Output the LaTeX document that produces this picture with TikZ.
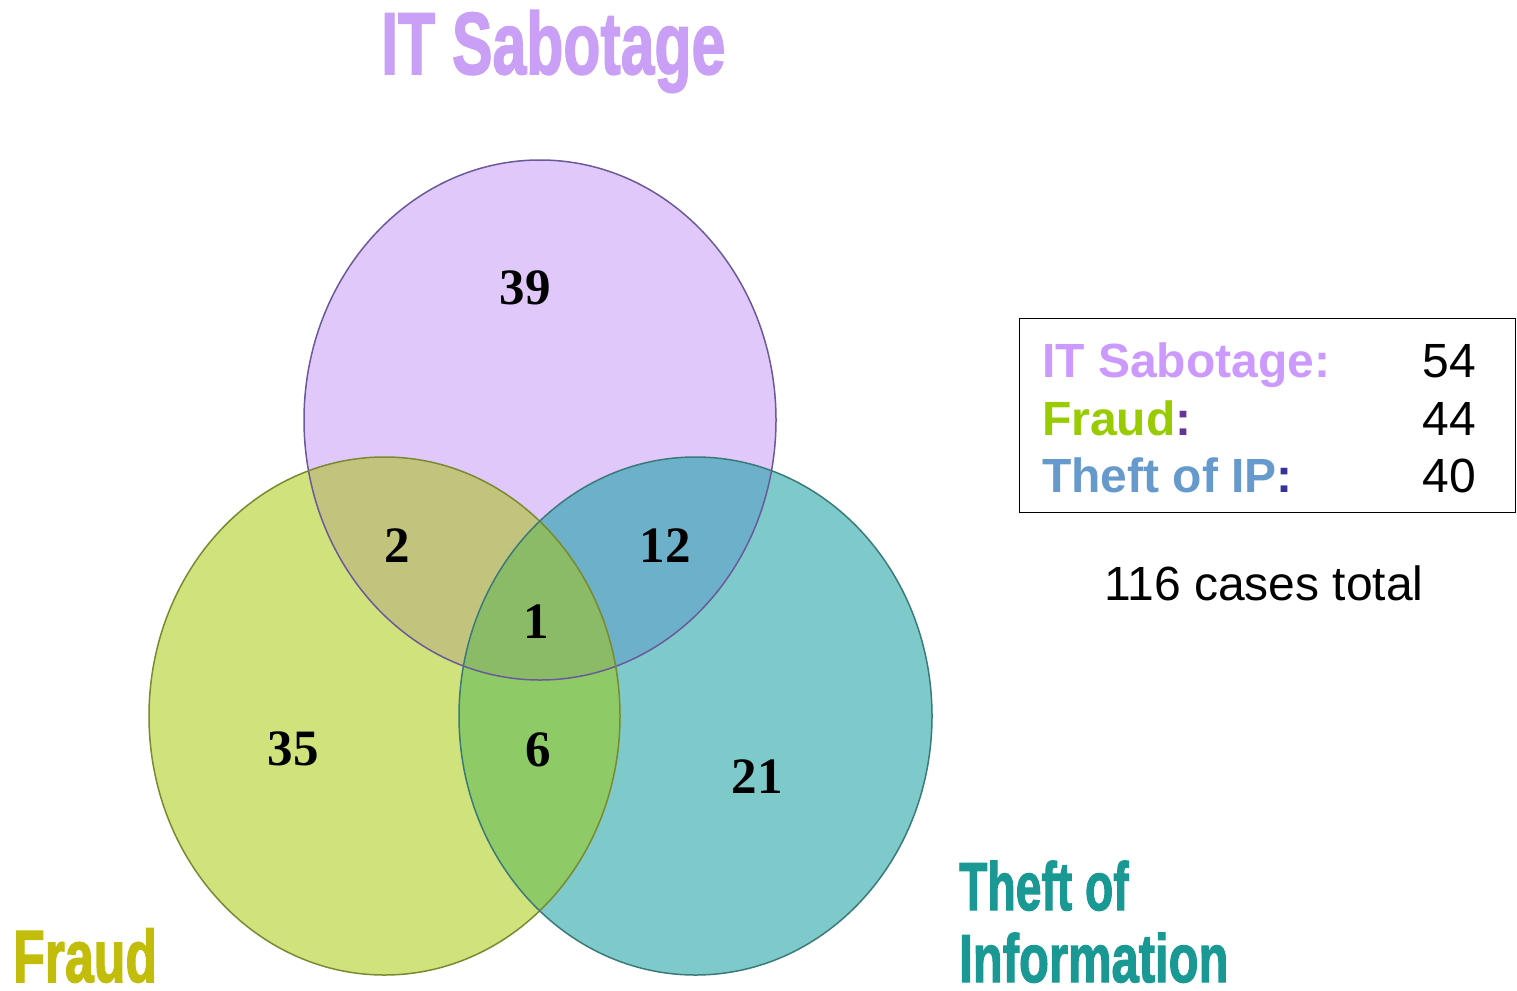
\documentclass[tikz,border=0pt]{standalone}
\usepackage{fontspec}
\usepackage{graphicx}
\setmainfont{Liberation Serif}
\newfontfamily\arialf{Liberation Sans}
\newfontfamily\heavyf[FakeBold=2]{Liberation Sans Bold}
\definecolor{topc}{HTML}{E0C8FA}
\definecolor{leftc}{HTML}{D0E27C}
\definecolor{rightc}{HTML}{7ECACB}
\definecolor{tlc}{HTML}{C2C47E}
\definecolor{trc}{HTML}{6DB0C9}
\definecolor{lrc}{HTML}{8ECB66}
\definecolor{allc}{HTML}{8BBB66}
\definecolor{topline}{HTML}{6A5A9A}
\definecolor{leftline}{HTML}{7A8A30}
\definecolor{rightline}{HTML}{3A7A7A}
\definecolor{ttop}{HTML}{C9A0F5}
\definecolor{tfraud}{HTML}{C2BD0A}
\definecolor{ttheft}{HTML}{1A9994}
\definecolor{lsab}{HTML}{CC99FF}
\definecolor{lfraud}{HTML}{99CC00}
\definecolor{lcolA}{HTML}{663399}
\definecolor{ltheft}{HTML}{6699CC}
\definecolor{lcolB}{HTML}{333399}
\tikzset{
  num/.style={font=\fontsize{51}{51}\selectfont\bfseries, inner sep=0pt},
  bigtitle/.style={anchor=base west, inner sep=0pt},
  legtxt/.style={anchor=base west, inner sep=0pt, font=\arialf\bfseries\fontsize{48}{48}\selectfont},
  legnum/.style={anchor=base east, inner sep=0pt, font=\arialf\fontsize{48}{48}\selectfont},
}
\newcommand{\topE}{(540,420) ellipse [x radius=236pt, y radius=260pt]}
\newcommand{\leftE}{(384.5,716) ellipse [x radius=235.5pt, y radius=259pt]}
\newcommand{\rightE}{(695.5,716) ellipse [x radius=236.5pt, y radius=259pt]}
\newcommand{\condensed}[2]{\scalebox{#1}[1]{#2}}
\begin{document}
\begin{tikzpicture}[x=1pt,y=-1pt]
\useasboundingbox[fill=white] (0,0) rectangle (1517,990);
% base fills
\fill[topc] \topE;
\fill[leftc] \leftE;
\fill[rightc] \rightE;
% pairwise overlaps
\begin{scope}\clip \topE; \fill[tlc] \leftE; \end{scope}
\begin{scope}\clip \topE; \fill[trc] \rightE; \end{scope}
\begin{scope}\clip \leftE; \fill[lrc] \rightE; \end{scope}
\begin{scope}\clip \topE; \clip \leftE; \fill[allc] \rightE; \end{scope}
% outlines
\draw[topline, line width=1.5pt] \topE;
\draw[leftline, line width=1.5pt] \leftE;
\draw[rightline, line width=1.5pt] \rightE;
% region numbers
\node[num] (n39) at (525,288) {39};
\node[num] (n2) at (397,546) {2};
\node[num] (n12) at (665,546) {12};
\node[num] (n1) at (536,622) {1};
\node[num] (n35) at (293,749) {35};
\node[num] (n6) at (538,750) {6};
\node[num] (n21) at (757,777) {21};
% titles
\node[bigtitle, text=ttop] (tsab) at (381,74) {\condensed{0.69}{\heavyf\fontsize{88}{88}\selectfont IT Sabotage}};
\node[bigtitle, text=tfraud] (tfr) at (13,982) {\condensed{0.70}{\heavyf\fontsize{74}{74}\selectfont Fraud}};
\node[bigtitle, text=ttheft] (tth1) at (959,910) {\condensed{0.68}{\heavyf\fontsize{68}{68}\selectfont Theft of}};
\node[bigtitle, text=ttheft] (tth2) at (959,982) {\condensed{0.72}{\heavyf\fontsize{68}{68}\selectfont Information}};
% legend
\draw[line width=1.8pt] (1019.5,318.5) rectangle (1515.5,512.5);
\node[legtxt, text=lsab] (l1) at (1042,377) {IT Sabotage:};
\node[legtxt, text=lfraud] (l2) at (1042,435) {Fraud\textcolor{lcolA}{:}};
\node[legtxt, text=ltheft] (l3) at (1042,492) {Theft of IP\textcolor{lcolB}{:}};
\node[legnum] (v1) at (1476,377) {54};
\node[legnum] (v2) at (1476,435) {44};
\node[legnum] (v3) at (1476,492) {40};
\node[anchor=base, inner sep=0pt, font=\arialf\fontsize{48}{48}\selectfont] (tot) at (1264,600) {116 cases total};
\end{tikzpicture}
\end{document}
